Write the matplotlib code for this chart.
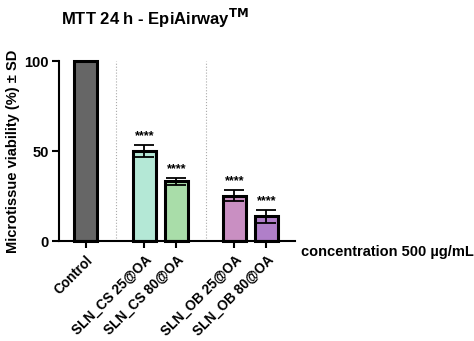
import numpy as np
import matplotlib
matplotlib.use('Agg')
from matplotlib import pyplot as plt

plt.rcParams['font.family'] = ['Liberation Sans', 'DejaVu Sans']
plt.rcParams['font.weight'] = 'bold'
plt.rcParams['axes.labelweight'] = 'bold'

groups = ['Control', 'SLN_CS 25@OA', 'SLN_CS 80@OA', 'SLN_OB 25@OA', 'SLN_OB 80@OA']
viability = [100, 50, 33.3, 25.3, 13.8]
sd = [0, 3.2, 2.0, 3.0, 3.6]
signif = ['', '****', '****', '****', '****']
colors = ['#666666', '#b4e8d6', '#a9dda9', '#c98fc2', '#b07fc9']

xpos = np.array([0, 1.84, 2.84, 4.66, 5.66])
sep = [0.94, 3.78]

fig = plt.figure(figsize=(4.74, 3.41), dpi=100)
ax = fig.add_axes([0.124, 0.293, 0.498, 0.528])

ax.bar(xpos, viability, width=0.72, color=colors, edgecolor='black', linewidth=2.2,
       clip_on=False, zorder=2)
ax.errorbar(xpos[1:], viability[1:], yerr=sd[1:], fmt='none', ecolor='black',
            elinewidth=1.3, capsize=7, capthick=1.3, zorder=3)
for x, v, e, s in zip(xpos, viability, sd, signif):
    if s:
        ax.text(x, v + e + 1.5, s, ha='center', va='bottom', fontsize=9)
for s in sep:
    ax.axvline(s, color='#aaaaaa', lw=0.8, ls=':', zorder=1)

ax.set_xlim(-0.84, 6.55)
ax.set_ylim(0, 100)
ax.set_yticks([0, 50, 100])
ax.set_xticks(xpos)
ax.set_xticklabels(groups, rotation=45, ha='right', rotation_mode='anchor')
ax.tick_params(axis='both', width=1.5, length=5, labelsize=10.5)
ax.tick_params(axis='y', pad=2)
ax.tick_params(axis='x', labelsize=9.8)
for sp in ['top', 'right']:
    ax.spines[sp].set_visible(False)
for sp in ['left', 'bottom']:
    ax.spines[sp].set_linewidth(1.5)

ax.set_ylabel('Microtissue viability (%) ± SD', fontsize=10.5, labelpad=3)
fig.text(0.327, 0.945, 'MTT 24 h - EpiAirway$^{\\mathbf{TM}}$', ha='center', va='center',
         fontsize=12)
fig.text(0.635, 0.262, 'concentration 500 µg/mL', ha='left', va='center', fontsize=10.5)

fig.savefig('out.png', dpi=100)
